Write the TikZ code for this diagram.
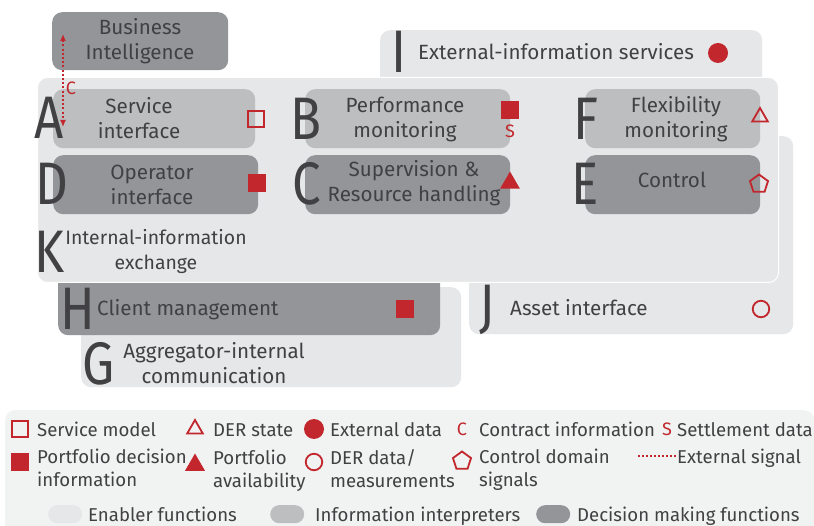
\documentclass[tikz,border=0pt]{standalone}
\usepackage{fontspec}
\setmainfont{Fira Sans}
\newfontfamily\bigf[FakeStretch=0.85]{Fira Sans}
\usetikzlibrary{shapes.geometric,arrows.meta}
\definecolor{dk}{HTML}{939598}
\definecolor{md}{HTML}{BCBEC0}
\definecolor{lt}{HTML}{E6E7E8}
\definecolor{lg}{HTML}{F1F2F2}
\definecolor{rd}{HTML}{C1272D}
\definecolor{tx}{HTML}{414042}
\tikzset{
  bx/.style={rounded corners=10pt, inner sep=0pt, anchor=north west, draw=none},
  txt/.style={text=tx, inner sep=0pt, font=\fontsize{20.6}{25}\selectfont},
  ltxt/.style={text=tx, inner sep=0pt, anchor=base west, align=left, font=\fontsize{18.6}{23}\selectfont},
  bigl/.style={text=tx, inner sep=0pt, font=\bigf\fontsize{60}{60}\selectfont},
  hsq/.style={draw=rd, line width=1.8pt, minimum size=15.5pt, inner sep=0pt},
  fsq/.style={fill=rd, minimum size=18pt, inner sep=0pt},
  htri/.style={regular polygon, regular polygon sides=3, draw=rd, line width=1.8pt, minimum size=18pt, inner sep=0pt},
  ftri/.style={regular polygon, regular polygon sides=3, fill=rd, minimum size=23pt, inner sep=0pt},
  fcirc/.style={circle, fill=rd, minimum size=20pt, inner sep=0pt},
  hcirc/.style={circle, draw=rd, line width=1.8pt, minimum size=16.5pt, inner sep=0pt},
  pent/.style={regular polygon, regular polygon sides=5, draw=rd, line width=1.8pt, minimum size=19pt, inner sep=0pt},
  rlet/.style={text=rd, inner sep=0pt, font=\fontsize{18}{18}\selectfont},
  sig/.style={draw=rd, line width=1.8pt, dash pattern=on 2pt off 2.2pt},
  pill/.style={rounded corners=9pt, minimum width=34pt, minimum height=18pt, inner sep=0pt, anchor=north west}
}
\begin{document}
\begin{tikzpicture}[x=1pt,y=-1pt]
\useasboundingbox (0,0) rectangle (814,526);
\fill[white] (0,0) rectangle (814,526);
% background boxes
\node[bx, fill=dk, minimum width=176pt, minimum height=58pt] (bi) at (52,12) {};
\node[bx, fill=lt, minimum width=382pt, minimum height=70pt] (ibox) at (380,30) {};
\node[bx, fill=lt, minimum width=324pt, minimum height=198pt] (jbox) at (469,136) {};
\node[bx, fill=lt, minimum width=380pt, minimum height=100pt] (gbox) at (81,287) {};
\node[bx, fill=dk, minimum width=382pt, minimum height=65pt] (hbox) at (58,270) {};
\node[bx, fill=lt, draw=white, line width=1pt, minimum width=741pt, minimum height=205pt] (kbox) at (37,77) {};
% inner boxes
\node[bx, fill=md, minimum width=202pt, minimum height=59pt] (abox) at (53,89) {};
\node[bx, fill=md, minimum width=205pt, minimum height=59pt] (bbox) at (305,89) {};
\node[bx, fill=md, minimum width=175pt, minimum height=59pt] (fbox) at (585,89) {};
\node[bx, fill=dk, minimum width=205pt, minimum height=59pt] (dbox) at (53,155) {};
\node[bx, fill=dk, minimum width=205pt, minimum height=59pt] (cbox) at (305,155) {};
\node[bx, fill=dk, minimum width=175pt, minimum height=59pt] (ebox) at (585,155) {};
% texts
\node[txt, align=center] (bit) at (140,41) {Business\\Intelligence};
\node[txt, anchor=base west] (it) at (418,60) {External-information services};
\node[txt, align=center] (at) at (139,118) {Service\\interface};
\node[txt, align=center] (bt) at (405,119) {Performance\\monitoring};
\node[txt, align=center] (ft) at (676,119) {Flexibility\\monitoring};
\node[txt, align=center] (dt) at (152,185) {Operator\\interface};
\node[txt, align=center] (ct) at (414,183) {Supervision \&\\Resource handling};
\node[txt, anchor=base] (et) at (672,188) {Control};
\node[txt, align=center, font=\fontsize{19.4}{25}\selectfont] (kt) at (156,252) {Internal-information\\exchange};
\node[txt, anchor=base west] (ht) at (97,316) {Client management};
\node[txt, align=center] (gt) at (214,363) {Aggregator-internal\\communication};
\node[txt, anchor=base west] (jt) at (510,316) {Asset interface};
% big letters
\node[bigl] (la) at (49,118) {A};
\node[bigl] (lb) at (306,119) {B};
\node[bigl] (lf) at (586,119) {F};
\node[bigl] (ld) at (52,184) {D};
\node[bigl] (lc) at (307,184) {C};
\node[bigl] (le) at (585,184) {E};
\node[bigl] (lk) at (50,252) {K};
\node[bigl] (lh) at (78,309) {H};
\node[bigl] (lg) at (99,364) {G};
\node[bigl] (lj) at (487,310) {J};
\node[bigl] (li) at (399,52) {I};
% markers
\node[hsq] (ma) at (256,119) {};
\node[fsq] (mb) at (510,110) {};
\node[rlet] (mbs) at (510,131) {S};
\node[htri] (mf) at (760,117) {};
\node[fsq] (md) at (257,183) {};
\node[ftri] (mc) at (510,183) {};
\node[pent] (me) at (759,184) {};
\node[fcirc] (mi) at (718,53) {};
\node[hcirc] (mj) at (761,309) {};
\node[fsq] (mh) at (405,309) {};
% external signal
\coordinate (ca) at (63,34);
\coordinate (cb) at (63,127);
\draw[sig, {Latex[length=7pt,width=6pt]}-{Latex[length=7pt,width=6pt]}] (ca) -- (cb);
\node[rlet] (cl) at (71,88) {C};
% legend
\node[bx, fill=lg, minimum width=809pt, minimum height=130pt] (leg) at (5,410) {};
\node[hsq] (l1) at (20,429) {};
\node[ltxt] (l1t) at (37,436) {Service model};
\node[htri] (l2) at (195,429) {};
\node[ltxt] (l2t) at (213,436) {DER state};
\node[fcirc] (l3) at (314,429) {};
\node[ltxt] (l3t) at (330,436) {External data};
\node[rlet] (l4) at (462,429) {C};
\node[ltxt] (l4t) at (479,436) {Contract information};
\node[rlet] (l5) at (667,429) {S};
\node[ltxt] (l5t) at (677,436) {Settlement data};
\node[fsq] (l6) at (20,462) {};
\node[ltxt] (l6t) at (37,486) {Portfolio decision\\information};
\node[ftri] (l7) at (195,465) {};
\node[ltxt] (l7t) at (213,487) {Portfolio\\availability};
\node[hcirc] (l8) at (314,462) {};
\node[ltxt] (l8t) at (330,487) {DER data/\\measurements};
\node[pent] (l9) at (462,461) {};
\node[ltxt] (l9t) at (479,486) {Control domain\\signals};
\coordinate (s1) at (638,456);
\coordinate (s2) at (676,456);
\draw[draw=rd, line width=1.5pt, dash pattern=on 2pt off 2pt] (s1) -- (s2);
\node[ltxt] (l10t) at (677,463) {External signal};
\node[pill, fill=lt] (p1) at (48,505) {};
\node[ltxt] (p1t) at (88,521) {Enabler functions};
\node[pill, fill=md] (p2) at (270,505) {};
\node[ltxt] (p2t) at (315,521) {Information interpreters};
\node[pill, fill=dk] (p3) at (536,505) {};
\node[ltxt] (p3t) at (577,521) {Decision making functions};
\end{tikzpicture}
\end{document}
